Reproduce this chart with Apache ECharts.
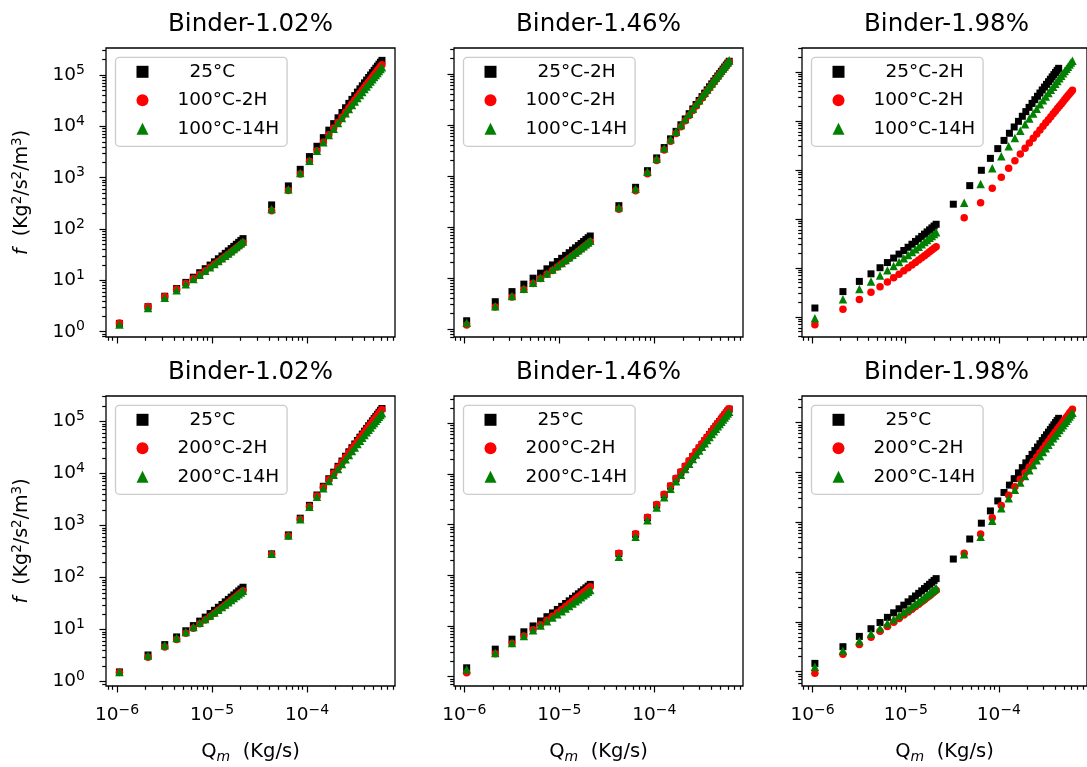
<!DOCTYPE html>
<html>
<head>
<meta charset="utf-8">
<script src="https://cdn.jsdelivr.net/npm/echarts@6/dist/echarts.min.js"></script>
<style>
  html, body { margin: 0; padding: 0; background: #fff; }
  #chart { width: 1087px; height: 767px; }
</style>
</head>
<body>
<div id="chart"></div>
<script>
// ---- Mass flow rate Q_m (kg/s) ----
const qLow = [1.06e-6, 2.12e-6, 3.18e-6, 4.24e-6, 5.30e-6, 6.36e-6, 7.42e-6, 8.48e-6, 9.54e-6, 1.060e-5,
              1.166e-5, 1.272e-5, 1.378e-5, 1.484e-5, 1.590e-5, 1.696e-5, 1.802e-5, 1.908e-5, 2.014e-5, 2.120e-5];
const qHigh = [4.24e-5, 6.36e-5, 8.48e-5, 1.060e-4, 1.272e-4, 1.484e-4, 1.696e-4, 1.908e-4, 2.120e-4, 2.332e-4,
               2.544e-4, 2.756e-4, 2.968e-4, 3.180e-4, 3.392e-4, 3.604e-4, 3.816e-4, 4.028e-4, 4.240e-4, 4.452e-4,
               4.664e-4, 4.876e-4, 5.088e-4, 5.300e-4, 5.512e-4, 5.724e-4, 5.936e-4, 6.148e-4];
// high-flow steps of the 25°C runs at 1.98 % binder
const qHighAlt = [3.24e-5, 4.86e-5, 6.48e-5, 8.10e-5, 9.72e-5, 1.134e-4, 1.296e-4, 1.458e-4, 1.620e-4, 1.782e-4,
                  1.944e-4, 2.106e-4, 2.268e-4, 2.430e-4, 2.592e-4, 2.754e-4, 2.916e-4, 3.078e-4, 3.240e-4, 3.402e-4,
                  3.564e-4, 3.726e-4, 3.888e-4, 4.050e-4, 4.212e-4, 4.374e-4];

// ---- f (Kg^2/s^2/m^3) ----
// Binder 1.02 %, 100 °C treatment
const f1_25C = [1.45, 3.08, 4.91, 6.92, 9.13, 11.52, 14.11, 16.88, 19.85, 23.0, 26.35, 29.88, 33.61, 37.52, 41.63, 45.92, 50.41, 55.08, 59.95, 65.0,
  295, 692, 1455, 2576, 4091, 6033, 8427, 11300, 14680, 18580, 23010, 27990, 33550, 39690, 46430, 53780, 61730, 70330, 79560, 89440, 100000, 111200, 123100, 135700, 148900, 162800, 177500, 192900];
const f1_100C2H = [1.48, 3.10, 4.84, 6.70, 8.70, 10.82, 13.08, 15.46, 17.96, 20.6, 23.36, 26.26, 29.28, 32.42, 35.7, 39.1, 42.64, 46.3, 50.08, 54.0,
  228, 562, 1184, 2099, 3336, 4924, 6882, 9237, 12000, 15190, 18830, 22920, 27480, 32520, 38050, 44080, 50610, 57680, 65250, 73390, 82060, 91280, 101000, 111400, 122300, 133800, 145800, 158500];
const f1_100C14H = [1.38, 2.91, 4.6, 6.45, 8.45, 10.61, 12.92, 15.39, 18.02, 20.8, 23.74, 26.83, 30.08, 33.49, 37.05, 40.77, 44.64, 48.67, 52.86, 57.2,
  245, 597, 1230, 2142, 3357, 4897, 6774, 9010, 11610, 14590, 17960, 21730, 25910, 30500, 35500, 40940, 46800, 53120, 59860, 67050, 74700, 82820, 91380, 100400, 109900, 119900, 130300, 141300];

// Binder 1.46 %, 100 °C treatment
const f2_25C = [1.45, 3.43, 5.41, 7.58, 9.92, 12.44, 15.14, 18.03, 21.09, 24.33, 27.75, 31.34, 35.12, 39.08, 43.22, 47.53, 52.03, 56.7, 61.56, 66.59,
  262, 600, 1272, 2264, 3614, 5354, 7505, 10100, 13150, 16690, 20720, 25260, 30330, 35950, 42130, 48880, 56180, 64120, 72620, 81780, 91530, 101900, 112900, 124600, 136900, 149900, 163600, 177800];
const f2_100C2H = [1.2, 2.7, 4.25, 5.94, 7.77, 9.73, 11.83, 14.07, 16.44, 18.95, 21.59, 24.37, 27.28, 30.33, 33.52, 36.85, 40.31, 43.9, 47.63, 51.5,
  222, 515, 1110, 2003, 3229, 4826, 6818, 9233, 12100, 15430, 19250, 23580, 28440, 33840, 39800, 46340, 53450, 61160, 69500, 78450, 88060, 98290, 109200, 120700, 133000, 145900, 159500, 173900];
const f2_100C14H = [1.33, 2.8, 4.42, 6.17, 8.08, 10.12, 12.31, 14.64, 17.12, 19.73, 22.5, 25.4, 28.45, 31.64, 34.98, 38.46, 42.08, 45.84, 49.75, 53.8,
  243, 562, 1209, 2176, 3505, 5230, 7382, 9986, 13070, 16660, 20780, 25430, 30660, 36460, 42850, 49860, 57480, 65770, 74680, 84270, 94540, 105500, 117200, 129500, 142600, 156400, 171000, 186200];

// Binder 1.98 %, 100 °C treatment
const f3_25C = [1.52, 3.29, 5.31, 7.58, 10.1, 12.87, 15.89, 19.16, 22.68, 26.45, 30.47, 34.74, 39.26, 44.03, 49.05, 54.32, 59.84, 65.61, 71.63, 77.9,
  200, 479, 985, 1725, 2727, 4014, 5614, 7545, 9826, 12480, 15530, 18980, 22870, 27190, 31970, 37230, 42980, 49220, 55980, 63270, 71110, 79500, 88470, 98000, 108100, 118900];
const f3_100C2H = [0.69, 1.44, 2.27, 3.17, 4.14, 5.18, 6.29, 7.47, 8.73, 10.05, 11.45, 12.91, 14.45, 16.06, 17.75, 19.5, 21.32, 23.22, 25.18, 27.22,
  106, 215, 421, 708, 1082, 1550, 2116, 2784, 3558, 4443, 5443, 6558, 7794, 9154, 10640, 12250, 14000, 15880, 17890, 20050, 22350, 24790, 27360, 30100, 32970, 36010, 39200, 42530];
const f3_100C14H = [0.94, 2.30, 3.70, 5.28, 7.02, 8.93, 11.01, 13.26, 15.68, 18.27, 21.03, 23.96, 27.05, 30.32, 33.76, 37.36, 41.14, 45.08, 49.2, 53.48,
  215, 518, 1079, 1908, 3040, 4506, 6338, 8563, 11210, 14300, 17850, 21900, 26470, 31570, 37220, 43450, 50270, 57720, 65800, 74560, 83950, 94040, 104800, 116400, 128600, 141600, 155400, 170000];

// Binder 1.02 %, 200 °C treatment
const f4_25C = [1.54, 3.26, 5.16, 7.25, 9.51, 11.96, 14.59, 17.4, 20.39, 23.56, 26.92, 30.45, 34.17, 38.07, 42.15, 46.41, 50.86, 55.48, 60.29, 65.28,
  286, 662, 1387, 2445, 3870, 5694, 7939, 10630, 13770, 17400, 21530, 26160, 31310, 37000, 43240, 50030, 57380, 65310, 73820, 82930, 92650, 102900, 113800, 125400, 137600, 150400, 163800, 177900];
const f4_200C2H = [1.5, 2.95, 4.65, 6.49, 8.49, 10.63, 12.92, 15.36, 17.95, 20.68, 23.57, 26.6, 29.78, 33.11, 36.59, 40.21, 43.99, 47.91, 51.98, 56.2,
  280, 632, 1325, 2335, 3696, 5437, 7582, 10150, 13150, 16620, 20560, 24980, 29900, 35340, 41290, 47780, 54800, 62370, 70500, 79200, 88470, 98270, 108700, 119800, 131400, 143600, 156400, 169900];
const f4_200C14H = [1.53, 3.2, 5.0, 6.93, 9.0, 11.2, 13.53, 16.0, 18.6, 21.33, 24.2, 27.2, 30.33, 33.6, 37.0, 40.53, 44.2, 48.0, 51.93, 56.0,
  286, 646, 1321, 2288, 3570, 5188, 7155, 9487, 12200, 15290, 18780, 22670, 26990, 31710, 36860, 42440, 48460, 54920, 61820, 69170, 76990, 85230, 93960, 103200, 112800, 122900, 133500, 144600];

// Binder 1.46 %, 200 °C treatment
const f5_25C = [1.5, 3.5, 5.51, 7.7, 10.06, 12.59, 15.3, 18.19, 21.25, 24.48, 27.89, 31.47, 35.22, 39.15, 43.26, 47.54, 51.99, 56.62, 61.42, 66.4,
  269, 646, 1368, 2435, 3884, 5751, 8059, 10840, 14120, 17910, 22230, 27090, 32540, 38560, 45200, 52410, 60240, 68740, 77850, 87650, 98090, 109200, 121000, 133500, 146700, 160500, 175200, 190500];
const f5_200C2H = [1.2, 2.85, 4.53, 6.39, 8.42, 10.62, 13.0, 15.55, 18.27, 21.16, 24.23, 27.47, 30.88, 34.46, 38.22, 42.15, 46.25, 50.53, 54.98, 59.6,
  272, 661, 1400, 2492, 3975, 5887, 8249, 11100, 14450, 18330, 22750, 27730, 33310, 39470, 46270, 53640, 61660, 70360, 79680, 89710, 100400, 111800, 123800, 136600, 150200, 164300, 179300, 195000];
const f5_200C14H = [1.4, 2.95, 4.61, 6.38, 8.28, 10.3, 12.44, 14.71, 17.09, 19.6, 22.22, 24.97, 27.84, 30.82, 33.93, 37.17, 40.52, 43.99, 47.59, 51.3,
  233, 577, 1222, 2176, 3470, 5138, 7201, 9690, 12610, 16000, 19860, 24210, 29080, 34460, 40390, 46830, 53830, 61420, 69560, 78320, 87650, 97600, 108100, 119300, 131100, 143400, 156500, 170200];

// Binder 1.98 %, 200 °C treatment
const f6_25C = [1.47, 3.18, 5.12, 7.3, 9.71, 12.35, 15.23, 18.35, 21.69, 25.28, 29.09, 33.14, 37.43, 41.95, 46.7, 51.69, 56.92, 62.37, 68.07, 73.99,
  183, 462, 960, 1692, 2688, 3975, 5579, 7522, 9831, 12520, 15620, 19140, 23100, 27530, 32430, 37820, 43720, 50150, 57140, 64670, 72780, 81470, 90760, 100700, 111200, 122400];
const f6_200C2H = [0.93, 2.24, 3.53, 4.94, 6.46, 8.09, 9.84, 11.71, 13.69, 15.78, 17.99, 20.31, 22.74, 25.29, 27.96, 30.74, 33.63, 36.64, 39.76, 43.0,
  238, 582, 1228, 2183, 3488, 5179, 7285, 9829, 12850, 16360, 20400, 24970, 30100, 35830, 42130, 49070, 56640, 64820, 73740, 83300, 93590, 104500, 116300, 128700, 141900, 155900, 170600, 186200];
const f6_200C14H = [1.26, 2.64, 4.14, 5.76, 7.5, 9.36, 11.34, 13.44, 15.66, 18.0, 20.46, 23.04, 25.74, 28.56, 31.5, 34.56, 37.74, 41.04, 44.46, 48.0,
  228, 514, 1079, 1912, 3046, 4510, 6329, 8527, 11130, 14150, 17610, 21530, 25920, 30820, 36220, 42110, 48580, 55560, 63130, 71270, 80000, 89300, 99260, 109800, 121000, 132800, 145300, 158500];

// ---- titles and legend labels ----
const titles = ['Binder-1.02%', 'Binder-1.46%', 'Binder-1.98%', 'Binder-1.02%', 'Binder-1.46%', 'Binder-1.98%'];
const namesTop1 = ['25°C', '100°C-2H', '100°C-14H'];
const namesTop = ['25°C-2H', '100°C-2H', '100°C-14H'];
const namesBottom = ['25°C', '200°C-2H', '200°C-14H'];

const qStd = qLow.concat(qHigh);
const qAlt = qLow.concat(qHighAlt);

const panels = [
  { names: namesTop1, q: [qStd, qStd, qStd], f: [f1_25C, f1_100C2H, f1_100C14H] },
  { names: namesTop, q: [qStd, qStd, qStd], f: [f2_25C, f2_100C2H, f2_100C14H] },
  { names: namesTop, q: [qAlt, qStd, qStd], f: [f3_25C, f3_100C2H, f3_100C14H] },
  { names: namesBottom, q: [qStd, qStd, qStd], f: [f4_25C, f4_200C2H, f4_200C14H] },
  { names: namesBottom, q: [qStd, qStd, qStd], f: [f5_25C, f5_200C2H, f5_200C14H] },
  { names: namesBottom, q: [qAlt, qStd, qStd], f: [f6_25C, f6_200C2H, f6_200C14H] }
];

// ---- layout ----
const FONT = 'DejaVu Sans';
const colLeft = [106, 454, 802];
const rowTop = [48, 396];
const rowH = [289, 290];
const PW = 289;
// axis limits in decades (log10)
const xLim = [[-6.116, -3.074], [-6.108, -3.066], [-6.113, -3.055]];
const yLim = [[-0.103, 5.526], [-0.157, 5.51], [-0.41, 5.49], [-0.083, 5.49], [-0.183, 5.54], [-0.287, 5.536]];

const markers = [
  { symbol: 'rect', size: 7, color: '#000000' },
  { symbol: 'circle', size: 7.5, color: '#ff0000' },
  { symbol: 'triangle', size: 8.5, color: '#008000' }
];

const fmtExp = e => (e < 0 ? '\u2212' + (-e) : String(e));
const powLabel = v => '{b|10}{s|' + fmtExp(Math.round(Math.log10(v))) + '}';
const tickRich = {
  b: { fontFamily: FONT, fontSize: 18.5, lineHeight: 24, color: '#000', verticalAlign: 'middle' },
  s: { fontFamily: FONT, fontSize: 14, lineHeight: 13, color: '#000', verticalAlign: 'top' }
};

function decades(lim) {
  const out = [];
  for (let n = Math.ceil(lim[0]); n <= Math.floor(lim[1]); n++) out.push(Math.pow(10, n));
  return out;
}
function minors(lim) {
  const out = [];
  for (let n = Math.floor(lim[0]); n <= Math.ceil(lim[1]); n++) {
    for (let k = 2; k <= 9; k++) {
      const v = k * Math.pow(10, n);
      const l = Math.log10(v);
      if (l > lim[0] && l < lim[1]) out.push(v);
    }
  }
  return out;
}

const tickLine = { color: '#000', width: 1.2 };

function axisPair(dim, gi, lim, showLabels, nameOpt) {
  const common = {
    type: 'log', logBase: 10, gridIndex: gi,
    position: dim === 'x' ? 'bottom' : 'left',
    min: Math.pow(10, lim[0]), max: Math.pow(10, lim[1]),
    axisLine: { show: false }, splitLine: { show: false }, splitArea: { show: false },
    minorTick: { show: false }, minorSplitLine: { show: false },
    silent: true
  };
  const majorVals = decades(lim);
  const major = Object.assign({}, common, {
    axisTick: { show: true, inside: false, length: 6.5, lineStyle: tickLine, customValues: majorVals },
    axisLabel: {
      show: showLabels, customValues: majorVals, formatter: powLabel,
      margin: dim === 'x' ? 17 : 21, rich: tickRich
    }
  }, nameOpt || {});
  const minor = Object.assign({}, common, {
    axisTick: { show: true, inside: false, length: 3.8, lineStyle: tickLine, customValues: minors(lim) },
    axisLabel: { show: false }
  });
  return [major, minor];
}

const grid = [], xAxis = [], yAxis = [], series = [], title = [], legend = [];

panels.forEach((p, i) => {
  const r = Math.floor(i / 3), c = i % 3;
  const left = colLeft[c], top = rowTop[r], h = rowH[r];
  grid.push({
    left: left, top: top, width: PW, height: h,
    show: true, borderColor: '#000', borderWidth: 1.3, backgroundColor: 'transparent'
  });

  const xName = r === 1 ? {
    name: 'Q{m|m}  (Kg/s)', nameLocation: 'middle', nameGap: 54,
    nameTextStyle: {
      fontFamily: FONT, fontSize: 19.5, lineHeight: 24, color: '#000',
      rich: { m: { fontFamily: FONT, fontSize: 14, fontStyle: 'italic', lineHeight: 18, verticalAlign: 'bottom', color: '#000' } }
    }
  } : null;
  const yName = c === 0 ? {
    name: '{i|f}  (Kg{s|2}/s{s|2}/m{s|3})', nameLocation: 'middle', nameGap: 72,
    nameTextStyle: {
      fontFamily: FONT, fontSize: 19, lineHeight: 24, color: '#000',
      rich: {
        i: { fontFamily: FONT, fontSize: 19, fontStyle: 'italic', lineHeight: 24, color: '#000' },
        s: { fontFamily: FONT, fontSize: 13.5, lineHeight: 13, verticalAlign: 'top', color: '#000' }
      }
    }
  } : null;

  xAxis.push(...axisPair('x', i, xLim[c], r === 1, xName));
  yAxis.push(...axisPair('y', i, yLim[i], c === 0, yName));

  title.push({
    text: titles[i], left: left + PW / 2, top: r === 0 ? 12.5 : 360, textAlign: 'center', padding: 0,
    textStyle: { fontFamily: FONT, fontSize: 24.5, fontWeight: 'normal', color: '#000' }
  });

  legend.push({
    data: p.names, orient: 'vertical', left: left + 9.5, top: top + 9.3,
    itemWidth: 12, itemHeight: 12, itemGap: 9.5, padding: [5, 8, 8, 21],
    borderColor: '#cccccc', borderWidth: 1.3, borderRadius: 4,
    backgroundColor: 'rgba(255,255,255,0.8)', selectedMode: false,
    formatter: n => (n.indexOf('25') === 0 ? '{w|' : '{a|') + n + '}',
    textStyle: {
      fontFamily: FONT, fontSize: 18.5, lineHeight: 19, color: '#000',
      rich: {
        a: { fontFamily: FONT, fontSize: 18.5, lineHeight: 19, padding: [0, 0, 0, 24], color: '#000' },
        w: { fontFamily: FONT, fontSize: 18.5, lineHeight: 19, padding: [0, 0, 0, 36], color: '#000' }
      }
    }
  });

  p.names.forEach((name, s) => {
    const q = p.q[s], f = p.f[s], m = markers[s];
    series.push({
      type: 'scatter', name: name,
      xAxisIndex: 2 * i, yAxisIndex: 2 * i,
      data: q.map((x, k) => [x, f[k]]),
      symbol: m.symbol, symbolSize: m.size,
      itemStyle: { color: m.color, opacity: 1 },
      silent: true
    });
  });
});

const chart = echarts.init(document.getElementById('chart'), null, { renderer: 'canvas' });
chart.setOption({
  animation: false,
  backgroundColor: '#ffffff',
  textStyle: { fontFamily: FONT },
  title: title, legend: legend, grid: grid, xAxis: xAxis, yAxis: yAxis, series: series
});
</script>
</body>
</html>
